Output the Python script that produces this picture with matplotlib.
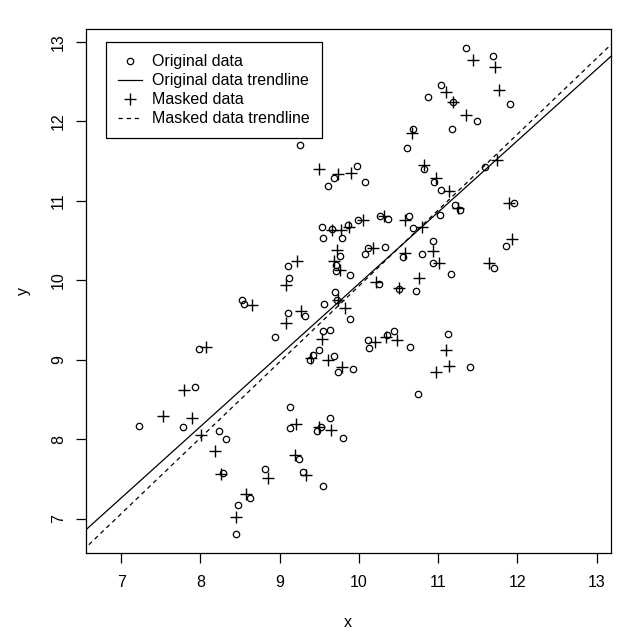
import matplotlib
matplotlib.use("Agg")
import matplotlib.pyplot as plt
from matplotlib.lines import Line2D
import numpy as np

plt.rcParams['font.family'] = ['Liberation Sans', 'DejaVu Sans']

# original data (circles)
orig_x = [9.26, 9.61, 9.68, 9.98, 10.08, 9.53, 9.55, 9.66, 9.78, 9.86, 9.99, 10.26, 10.37,
          9.76, 10.11, 10.08, 10.33, 9.10, 9.71, 9.71, 9.89, 9.12, 9.56, 9.70, 9.72, 9.89,
          9.10, 9.32, 8.94, 9.55, 9.63, 10.11, 10.13, 10.35, 10.44, 9.38, 9.42, 9.50, 9.68,
          9.74, 9.93, 9.13, 8.52, 8.55, 7.98, 7.93, 7.22, 7.78, 8.23, 8.32, 9.13, 9.47, 9.52,
          9.64, 9.80, 8.28, 8.82, 9.24, 9.29, 9.55, 8.62, 8.47, 8.45, 10.65, 11.12, 11.40,
          10.75, 10.60, 10.82, 10.95, 11.04, 11.59, 11.21, 11.28, 11.02, 11.95, 10.63, 10.68,
          10.93, 10.79, 10.93, 10.56, 11.86, 11.70, 11.16, 11.35, 11.69, 11.90, 11.04, 10.87,
          11.19, 11.49, 11.18, 10.68, 10.72, 10.50, 10.25]
orig_y = [11.70, 11.19, 11.29, 11.44, 11.24, 10.67, 10.53, 10.65, 10.53, 10.70, 10.76, 10.81, 10.77,
          10.31, 10.41, 10.33, 10.42, 10.18, 10.19, 10.12, 10.07, 10.03, 9.70, 9.85, 9.75, 9.51,
          9.59, 9.55, 9.29, 9.36, 9.38, 9.25, 9.15, 9.31, 9.36, 9.00, 9.06, 9.13, 9.05,
          8.85, 8.89, 8.41, 9.76, 9.70, 9.14, 8.66, 8.17, 8.16, 8.11, 8.00, 8.14, 8.11, 8.16,
          8.27, 8.02, 7.58, 7.63, 7.75, 7.59, 7.42, 7.26, 7.18, 6.81, 9.16, 9.33, 8.91,
          8.57, 11.66, 11.40, 11.24, 11.14, 11.43, 10.95, 10.89, 10.82, 10.98, 10.81, 10.66,
          10.49, 10.33, 10.22, 10.29, 10.43, 10.15, 10.08, 12.92, 12.82, 12.22, 12.46, 12.31,
          12.24, 12.00, 11.91, 11.91, 9.87, 9.89, 9.96]

# masked data (crosses)
mask_x = [9.50, 9.74, 9.90, 9.66, 9.77, 9.87, 10.05, 10.32, 9.72, 10.18, 9.22, 9.69, 9.76,
          9.08, 9.73, 9.82, 9.08, 9.27, 10.22, 9.54, 10.20, 10.34, 10.48, 9.40, 9.61, 9.78,
          8.65, 8.07, 7.79, 7.53, 7.89, 8.01, 8.18, 9.21, 9.50, 9.65, 8.26, 8.85, 9.19, 9.33,
          8.57, 8.45, 11.10, 11.14, 10.97, 10.82, 10.97, 11.13, 11.74, 11.25, 11.89, 10.58,
          10.79, 10.93, 11.01, 10.58, 11.93, 11.64, 10.76, 11.44, 11.71, 11.77, 11.10, 11.19,
          11.35, 10.67, 10.50]
mask_y = [11.40, 11.34, 11.35, 10.64, 10.64, 10.67, 10.76, 10.81, 10.38, 10.41, 10.25, 10.24, 10.13,
          9.94, 9.75, 9.65, 9.47, 9.62, 9.98, 9.26, 9.23, 9.29, 9.25, 9.03, 9.00, 8.91,
          9.69, 9.16, 8.62, 8.30, 8.27, 8.05, 7.86, 8.19, 8.16, 8.12, 7.56, 7.51, 7.80, 7.55,
          7.32, 7.03, 9.12, 8.92, 8.85, 11.45, 11.29, 11.12, 11.51, 10.91, 10.97, 10.76,
          10.67, 10.37, 10.22, 10.34, 10.52, 10.22, 10.03, 12.77, 12.69, 12.39, 12.37, 12.24,
          12.08, 11.86, 9.90]

# trendline coefficients (intercept, slope)
orig_fit = [0.97, 0.899]
mask_fit = [0.38, 0.955]

FS = 11.5

fig = plt.figure(figsize=(6.4, 6.43), dpi=100)
ax = fig.add_axes([0.134, 0.140, 0.820, 0.815])

ax.plot(orig_x, orig_y, linestyle='none', marker='o', markersize=4.6,
        markerfacecolor='none', markeredgecolor='black', markeredgewidth=0.9)
ax.plot(mask_x, mask_y, linestyle='none', marker='+', markersize=9,
        color='black', markeredgewidth=1.0)

xs = np.array([6.0, 14.0])
ax.plot(xs, orig_fit[0] + orig_fit[1] * xs, color='black', lw=0.9)
ax.plot(xs, mask_fit[0] + mask_fit[1] * xs, color='black', lw=0.9, dashes=(3.5, 3))

ax.set_xlim(6.554, 13.174)
ax.set_ylim(6.572, 13.163)
ax.set_xticks(range(7, 14))
ax.set_yticks(range(7, 14))
ax.tick_params(direction='out', length=7.2, width=0.9, labelsize=FS)
ax.tick_params(axis='x', pad=9)
ax.tick_params(axis='y', pad=7)
for lab in ax.get_yticklabels():
    lab.set_rotation(90)
    lab.set_va('center')
for sp in ax.spines.values():
    sp.set_linewidth(0.9)

ax.set_xlabel('x', fontsize=FS, labelpad=18)
ax.set_ylabel('y', fontsize=FS, labelpad=14.5)

handles = [
    Line2D([], [], linestyle='none', marker='o', markersize=4.6, markerfacecolor='none',
           markeredgecolor='black', markeredgewidth=0.9),
    Line2D([], [], color='black', lw=0.9),
    Line2D([], [], linestyle='none', marker='+', markersize=9, color='black', markeredgewidth=1.0),
    Line2D([], [], color='black', lw=0.9, dashes=(3.5, 3)),
]
labels = ['Original data', 'Original data trendline', 'Masked data', 'Masked data trendline']
leg = ax.legend(handles, labels, loc='upper left', bbox_to_anchor=(106 / 640, 1 - 42 / 643),
                bbox_transform=fig.transFigure, borderaxespad=0, fancybox=False,
                edgecolor='black', framealpha=1, fontsize=FS, handlelength=1.5,
                handletextpad=0.6, labelspacing=0.25, borderpad=0.76)
leg.get_frame().set_linewidth(0.9)

fig.savefig('out.png', dpi=100)
